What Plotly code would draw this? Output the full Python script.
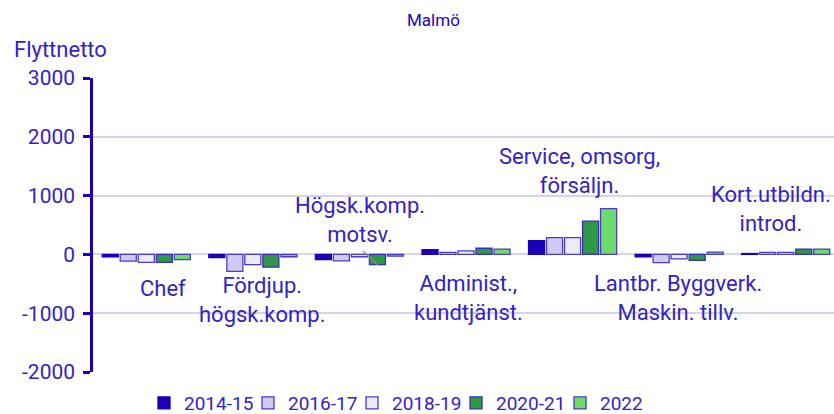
import plotly.graph_objects as go

categories = ["Chef", "Fördjup. högsk.komp.", "Högsk.komp. motsv.", "Administ., kundtjänst.",
              "Service, omsorg, försäljn.", "Lantbr. Byggverk. Maskin. tillv.", "Kort.utbildn. introd."]
series_names = ["2014-15", "2016-17", "2018-19", "2020-21", "2022"]
v_2014_15 = [-40, -55, -90, 80, 235, -40, 15]
v_2016_17 = [-115, -290, -110, 35, 285, -140, 35]
v_2018_19 = [-135, -175, -40, 60, 285, -75, 35]
v_2020_21 = [-135, -215, -175, 105, 565, -100, 90]
v_2022 = [-90, -40, -30, 90, 780, 40, 90]
y_ticks = [-2000, -1000, 0, 1000, 2000, 3000]

values = [v_2014_15, v_2016_17, v_2018_19, v_2020_21, v_2022]
fills = ["#1c00b8", "#d0ccf0", "#ecebfb", "#2e9944", "#6ddc6a"]
lines = ["#1c00b8", "#4a3bc8", "#4a3bc8", "#3a2bc0", "#4a3bc8"]

TXT = "#3422c4"
AX = "#1c00b8"
FONT = "Roboto"

L, R, T, B = 93, 0, 78, 42
W, H = 834, 414
PW, PH = W - L - R, H - T - B

def px_x(px):
    return (px - L) / PW

def px_y(py):
    return (H - B - py) / PH

fig = go.Figure()
for name, vals, fc, lc in zip(series_names, values, fills, lines):
    fig.add_trace(go.Bar(x=categories, y=vals, name=name,
                         marker=dict(color=fc, line=dict(color=lc, width=1.3))))

# category labels: (category index, text, pixel y centre, x shift)
labels = [
    (0, "Chef", 288, 17),
    (1, "Fördjup.<br>högsk.komp.", 300, 9),
    (2, "Högsk.komp.<br>motsv.", 220, 1),
    (3, "Administ.,<br>kundtjänst.", 298, 2),
    (4, "Service, omsorg,<br>försäljn.", 171, 7),
    (5, "Lantbr. Byggverk.<br>Maskin. tillv.", 298, -1),
    (6, "Kort.utbildn.<br>introd.", 209, -15),
]

fig.update_layout(
    width=W, height=H,
    margin=dict(l=L, r=R, t=T, b=B, autoexpand=False),
    paper_bgcolor="white", plot_bgcolor="white",
    font=dict(family=FONT, size=21, color=TXT),
    barmode="group", bargap=0.155, bargroupgap=0.11,
    showlegend=True,
    legend=dict(orientation="h", x=px_x(144), xanchor="left", y=px_y(403), yanchor="middle",
                font=dict(size=19, color=TXT), traceorder="normal",
                itemwidth=30, entrywidth=59, entrywidthmode="pixels"),
    xaxis=dict(showticklabels=False, showline=False, showgrid=False, zeroline=False,
               ticks="", range=[-0.5, 6.453]),
    yaxis=dict(range=[-2000, 3000], tickvals=y_ticks, ticktext=[str(t) for t in y_ticks],
               showline=True, linecolor=AX, linewidth=2.5,
               ticks="outside", ticklen=7, tickwidth=2.5, tickcolor=AX,
               showgrid=True, gridcolor="#d4d4f0", gridwidth=2,
               zeroline=False, tickfont=dict(size=21, color=TXT), ticklabelstandoff=4),
)

for ci, txt, py, xs in labels:
    fig.add_annotation(x=categories[ci], y=px_y(py), yref="paper", xref="x",
                       text=txt, showarrow=False, xshift=xs, xanchor="center", yanchor="middle",
                       font=dict(size=22, color=TXT), align="center")

# leader line for Högsk.komp. motsv.
fig.add_annotation(x=categories[2], y=v_2020_21[2], xref="x", yref="y", text="",
                   showarrow=True, arrowhead=0, arrowwidth=1.3, arrowcolor="#909090",
                   ax=-16, ay=-15, xshift=18)

fig.add_annotation(x=px_x(12), y=px_y(49), xref="paper", yref="paper", text="Flyttnetto",
                   showarrow=False, xanchor="left", yanchor="middle",
                   font=dict(size=22, color=TXT))
fig.add_annotation(x=px_x(433), y=px_y(20), xref="paper", yref="paper", text="Malmö",
                   showarrow=False, xanchor="center", yanchor="middle",
                   font=dict(size=17, color="#1f00c0"))

fig.write_html("out.html", config={"displayModeBar": False},
               post_script="document.body.style.margin='0';document.body.style.overflow='hidden';")
